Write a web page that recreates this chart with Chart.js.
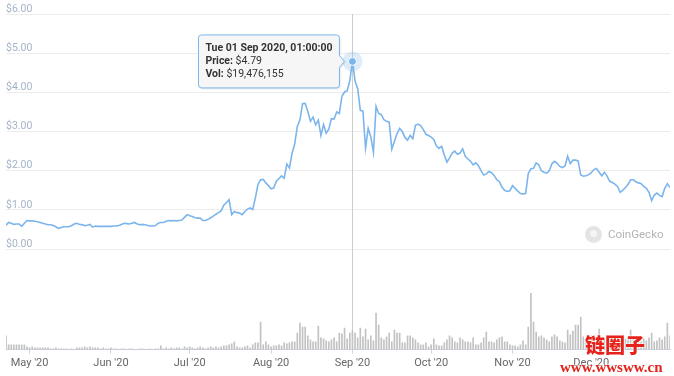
<!DOCTYPE html>
<html>
<head>
<meta charset="utf-8">
<script src="https://cdn.jsdelivr.net/npm/chart.js@4.4.0/dist/chart.umd.min.js"></script>
<style>
    html, body { margin: 0; padding: 0; background: #fff; }
    #wrap { position: relative; width: 674px; height: 376px; }
    .cg-logo { position: absolute; left: 585px; top: 226px; width: 17px; height: 17px; border-radius: 50%; background: #e4e4e4; }
    .cg-logo span { position: absolute; left: 5px; top: 4px; width: 7px; height: 7px; border-radius: 50%; background: #f4f4f4; }
    .cg-text { position: absolute; left: 608px; top: 227px; font: 11.5px Roboto, sans-serif; color: #b4b4b4; }
    .wm-cn { position: absolute; left: 585px; top: 334px; font: 900 20px "Noto Sans CJK SC", sans-serif; color: #e5231b; line-height: 22px;
             text-shadow: 0 0 2px #fff, 0 0 2px #fff; }
    .wm-url { position: absolute; left: 560px; top: 359px; font: bold 15px "Liberation Serif", serif; color: #e5231b; line-height: 16px;
              text-shadow: 0 0 2px #fff, 0 0 2px #fff, 0 0 3px #fff; }
</style>
</head>
<body>
<div id="wrap">
    <canvas id="price-chart" width="674" height="376"></canvas>
    <div class="cg-logo"><span></span></div>
    <div class="cg-text">CoinGecko</div>
    <div class="wm-cn">链圈子</div>
    <div class="wm-url">www.wwsww.cn</div>
</div>
<script>
// daily price (USD), 22 Apr 2020 -> 31 Dec 2020
const priceData = [
    0.61, 0.68, 0.66, 0.63, 0.64, 0.64, 0.58, 0.66, 0.73, 0.72,
    0.72, 0.71, 0.70, 0.68, 0.66, 0.64, 0.62, 0.62, 0.60, 0.57,
    0.53, 0.55, 0.57, 0.57, 0.57, 0.60, 0.64, 0.66, 0.63, 0.62,
    0.60, 0.61, 0.63, 0.56, 0.59, 0.58, 0.58, 0.58, 0.58, 0.58,
    0.58, 0.59, 0.59, 0.60, 0.63, 0.66, 0.65, 0.64, 0.66, 0.68,
    0.64, 0.62, 0.63, 0.62, 0.60, 0.59, 0.59, 0.60, 0.66, 0.68,
    0.68, 0.71, 0.73, 0.72, 0.73, 0.72, 0.73, 0.74, 0.81, 0.88,
    0.85, 0.83, 0.80, 0.79, 0.79, 0.73, 0.73, 0.76, 0.80, 0.84,
    0.89, 0.93, 0.98, 1.12, 1.19, 1.26, 0.88, 0.96, 0.93, 0.92,
    0.88, 0.96, 1.02, 1.05, 1.01, 1.30, 1.65, 1.77, 1.78, 1.69,
    1.62, 1.54, 1.56, 1.73, 1.80, 1.87, 1.81, 2.17, 2.07, 2.45,
    2.68, 3.13, 3.30, 3.71, 3.72, 3.51, 3.26, 3.37, 3.17, 3.29,
    2.90, 3.18, 2.96, 3.06, 3.33, 3.32, 3.50, 3.46, 3.90, 4.01,
    4.04, 4.30, 4.79, 4.29, 4.10, 3.54, 3.52, 2.58, 3.08, 2.87,
    2.47, 3.64, 3.46, 3.43, 3.30, 3.26, 3.24, 2.55, 2.75, 2.95,
    3.08, 3.00, 2.85, 2.78, 2.90, 2.82, 3.16, 3.19, 3.15, 3.05,
    2.93, 2.90, 2.86, 2.80, 2.63, 2.57, 2.62, 2.40, 2.22, 2.33,
    2.45, 2.50, 2.42, 2.45, 2.56, 2.37, 2.30, 2.24, 2.15, 2.20,
    2.13, 2.00, 1.89, 1.92, 1.98, 1.95, 1.88, 1.77, 1.72, 1.58,
    1.50, 1.47, 1.49, 1.62, 1.55, 1.48, 1.42, 1.41, 1.42, 1.93,
    2.05, 2.06, 2.20, 2.15, 2.00, 1.96, 1.94, 2.00, 2.18, 2.24,
    2.19, 2.11, 2.08, 2.12, 2.37, 2.18, 2.27, 2.27, 2.25, 1.89,
    1.86, 1.87, 1.90, 1.95, 2.03, 2.06, 1.96, 1.87, 1.96, 1.87,
    1.73, 1.70, 1.66, 1.60, 1.45, 1.50, 1.57, 1.65, 1.77, 1.77,
    1.72, 1.69, 1.67, 1.60, 1.55, 1.45, 1.24, 1.38, 1.43, 1.37,
    1.34, 1.55, 1.67, 1.57
];

// daily volume, millions USD
const volumeData = [
    14, 5, 5, 5, 5, 5, 5, 5, 3, 2,
    3, 2, 2, 2, 2, 2, 2, 1, 1, 2,
    1, 1, 1, 1, 0.5, 1, 0.5, 2, 2, 2,
    3, 2, 3, 2, 2, 2, 1, 2, 1, 1,
    2, 1, 1, 0.5, 1, 1, 0.5, 1, 1, 0.5,
    0.5, 1, 1, 0.5, 0.5, 1, 0.5, 1, 1, 4,
    1, 2, 1, 2, 1, 2, 2, 1, 3, 2,
    3, 2, 1, 2, 3, 2, 1, 2, 3, 2,
    3, 2, 3, 4, 4, 5, 6, 8, 3, 2,
    2, 3, 4, 2, 5, 7, 7, 28, 5, 8,
    5, 3, 4, 4, 5, 4, 7, 6, 7, 8,
    8, 17, 27, 23, 23, 14, 10, 8, 8, 24,
    12, 11, 9, 8, 10, 12, 8, 17, 16, 22,
    11, 17, 19.48, 17, 12, 22, 13, 21, 10, 14,
    9, 37, 25, 12, 10, 13, 17, 8, 20, 17,
    17, 7, 7, 14, 14, 12, 10, 7, 5, 5,
    7, 3, 5, 11, 5, 4, 4, 7, 10, 14,
    12, 8, 7, 12, 10, 8, 8, 7, 12, 5,
    5, 7, 12, 18, 8, 8, 7, 10, 12, 13,
    8, 8, 5, 4, 4, 3, 5, 9, 5, 23,
    57, 28, 18, 13, 14, 12, 10, 8, 13, 15,
    13, 9, 8, 7, 20, 15, 19, 25, 25, 33,
    13, 10, 12, 14, 9, 12, 21, 12, 10, 14,
    11, 9, 13, 10, 12, 15, 11, 10, 20, 12,
    10, 9, 8, 11, 9, 12, 17, 8, 9, 12,
    10, 13, 27, 14
];

// day index of each month start, and its label
const monthTicks = [9, 40, 70, 101, 132, 162, 193, 223];
const monthLabels = ["May '20", "Jun '20", "Jul '20", "Aug '20", "Sep '20", "Oct '20", "Nov '20", "Dec '20"];
const priceTicks = [0, 1, 2, 3, 4, 5, 6];

// hovered point shown in the picture
const hoverIndex = 132;
const hoverDate = 'Tue 01 Sep 2020, 01:00:00';
const hoverVolume = 19476155;

const dayIndex = priceData.map((v, i) => i);

// crosshair under the line, halo + tooltip over it
const hoverPlugin = {
    id: 'hoverPlugin',
    beforeDatasetsDraw(chart) {
        const c = chart.ctx;
        const area = chart.chartArea;
        const x = Math.round(chart.scales.x.getPixelForValue(hoverIndex)) + 0.5;
        c.save();
        c.strokeStyle = '#cccccc';
        c.lineWidth = 1;
        c.beginPath();
        c.moveTo(x, area.top);
        c.lineTo(x, area.bottom);
        c.stroke();
        c.restore();
    },
    afterDatasetsDraw(chart) {
        const c = chart.ctx;
        const pt = chart.getDatasetMeta(0).data[hoverIndex];
        c.save();
        // halo
        c.fillStyle = 'rgba(124, 181, 236, 0.25)';
        c.beginPath();
        c.arc(pt.x, pt.y, 10, 0, Math.PI * 2);
        c.fill();
        c.fillStyle = '#7cb5ec';
        c.strokeStyle = '#ffffff';
        c.lineWidth = 1;
        c.beginPath();
        c.arc(pt.x, pt.y, 4, 0, Math.PI * 2);
        c.fill();
        c.stroke();

        // tooltip
        const bold = 'bold 10.5px Roboto, sans-serif';
        const normal = '10.5px Roboto, sans-serif';
        const lines = [
            [[hoverDate, bold]],
            [['Price: ', bold], ['$' + priceData[hoverIndex].toFixed(2), normal]],
            [['Vol: ', bold], ['$' + hoverVolume.toLocaleString('en-US'), normal]]
        ];
        let w = 0;
        lines.forEach(parts => {
            let lw = 0;
            parts.forEach(p => { c.font = p[1]; lw += c.measureText(p[0]).width; });
            w = Math.max(w, lw);
        });
        const boxW = w + 14;
        const boxH = 53;
        const right = pt.x - 13;
        const left = right - boxW;
        const top = pt.y - boxH / 2;
        const r = 3;
        c.beginPath();
        c.moveTo(left + r, top);
        c.lineTo(right - r, top);
        c.quadraticCurveTo(right, top, right, top + r);
        c.lineTo(right, pt.y - 6);
        c.lineTo(pt.x - 8, pt.y);
        c.lineTo(right, pt.y + 6);
        c.lineTo(right, top + boxH - r);
        c.quadraticCurveTo(right, top + boxH, right - r, top + boxH);
        c.lineTo(left + r, top + boxH);
        c.quadraticCurveTo(left, top + boxH, left, top + boxH - r);
        c.lineTo(left, top + r);
        c.quadraticCurveTo(left, top, left + r, top);
        c.closePath();
        c.shadowColor = 'rgba(0,0,0,0.12)';
        c.shadowOffsetX = 1;
        c.shadowOffsetY = 1;
        c.shadowBlur = 2;
        c.fillStyle = 'rgba(247, 247, 247, 0.95)';
        c.fill();
        c.shadowColor = 'transparent';
        c.strokeStyle = '#7cb5ec';
        c.stroke();

        c.fillStyle = '#333333';
        c.textBaseline = 'middle';
        c.textAlign = 'left';
        lines.forEach((parts, i) => {
            let tx = left + 7;
            const ty = top + 13 + i * 13;
            parts.forEach(p => {
                c.font = p[1];
                c.fillText(p[0], tx, ty);
                tx += c.measureText(p[0]).width;
            });
        });
        c.restore();
    }
};

new Chart(document.getElementById('price-chart'), {
    data: {
        labels: dayIndex,
        datasets: [
            {
                type: 'line',
                data: priceData,
                yAxisID: 'y',
                borderColor: '#7cb5ec',
                borderWidth: 1.6,
                pointRadius: 0,
                tension: 0,
                order: 1
            },
            {
                type: 'bar',
                data: volumeData,
                yAxisID: 'yVol',
                backgroundColor: '#c2c2c2',
                barThickness: 1,
                order: 2
            }
        ]
    },
    options: {
        responsive: false,
        animation: false,
        layout: {
            padding: { left: 6, right: 4, top: 14, bottom: 3 }
        },
        plugins: {
            legend: { display: false },
            tooltip: { enabled: false }
        },
        scales: {
            x: {
                type: 'linear',
                offset: false,
                min: 0,
                max: priceData.length - 1,
                afterBuildTicks: (scale) => {
                    scale.ticks = monthTicks.map(v => ({ value: v }));
                },
                ticks: {
                    autoSkip: false,
                    maxRotation: 0,
                    padding: 3,
                    color: '#666666',
                    font: { family: 'Roboto', size: 11 },
                    callback: (v) => monthLabels[monthTicks.indexOf(v)]
                },
                grid: { drawOnChartArea: false, offset: false, tickLength: 4, color: '#ccd6eb' },
                border: { color: '#ccd6eb' }
            },
            y: {
                min: -2.57,
                max: 6,
                afterBuildTicks: (scale) => {
                    scale.ticks = priceTicks.map(v => ({ value: v }));
                },
                ticks: {
                    mirror: true,
                    padding: 0,
                    labelOffset: -5,
                    color: '#a5b4c8',
                    font: { family: 'Roboto', size: 10.5 },
                    callback: (v) => '$' + v.toFixed(2)
                },
                grid: { color: '#ececec', drawTicks: false },
                border: { display: false }
            },
            yVol: {
                display: false,
                min: 0,
                max: 339
            }
        }
    },
    plugins: [hoverPlugin]
});
</script>
</body>
</html>
